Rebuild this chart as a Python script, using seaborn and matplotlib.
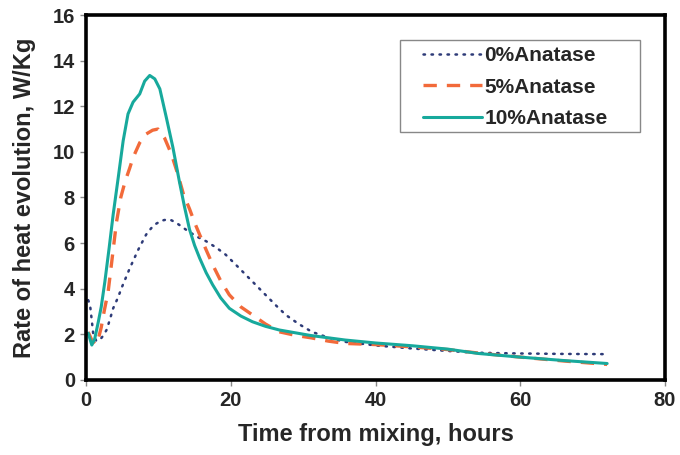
import matplotlib
matplotlib.use("Agg")
import matplotlib.pyplot as plt
from matplotlib.patches import Rectangle
import seaborn as sns

# ---- data ----
x_0 = [0.3, 0.55, 0.8, 1.0, 1.4, 1.9, 2.4, 2.85, 3.3, 3.75, 4.4, 5.0, 6.05, 7.2, 8.3, 9.0,
       9.7, 10.4, 11.1, 11.8, 12.4, 13.1, 13.8, 15.2, 16.6, 18.0, 19.3, 20.7, 22.1, 23.5,
       24.8, 26.2, 27.6, 29.4, 31.2, 33.5, 35.8, 40.4, 45, 50, 54.2, 60, 66, 72]
y_0 = [3.5, 3.3, 2.6, 2.0, 1.72, 1.75, 1.95, 2.2, 2.65, 3.14, 3.6, 4.1, 4.9, 5.7, 6.37, 6.65,
       6.85, 6.98, 7.03, 7.0, 6.9, 6.75, 6.59, 6.3, 6.08, 5.8, 5.49, 5.05, 4.6, 4.15,
       3.73, 3.28, 2.85, 2.45, 2.11, 1.85, 1.67, 1.5, 1.38, 1.27, 1.19, 1.16, 1.14, 1.13]

x_5 = [0.3, 0.8, 1.3, 1.7, 2.1, 2.5, 3.07, 3.6, 4.2, 4.8, 5.4, 6.05, 6.5, 7.42, 8.3, 9.2,
       9.94, 10.86, 11.8, 12.7, 13.5, 14.3, 15.0, 15.7, 16.6, 17.5, 18.6, 19.8, 21.4, 23,
       24.8, 26.7, 29, 31.2, 33.5, 35.8, 40, 45, 50, 55, 60, 66, 72]
y_5 = [2.1, 1.75, 1.55, 1.8, 2.3, 3.0, 3.9, 5.3, 6.9, 8.0, 8.7, 9.3, 9.75, 10.4, 10.78, 10.95,
       11.0, 10.6, 9.9, 9.0, 8.1, 7.5, 6.9, 6.37, 5.7, 5.05, 4.35, 3.73, 3.2, 2.85,
       2.45, 2.11, 1.95, 1.84, 1.7, 1.6, 1.55, 1.45, 1.33, 1.15, 1.0, 0.83, 0.68]

x_10 = [0.3, 0.8, 1.2, 1.7, 2.1, 2.6, 3.2, 3.75, 4.45, 5.13, 5.8, 6.5, 7.42, 8.1, 8.8, 9.5,
        10.2, 11.1, 12.0, 12.9, 13.6, 14.3, 15.0, 15.7, 16.6, 17.5, 18.6, 19.8, 21.4, 23,
        24.8, 26.7, 31, 35.8, 40, 45, 50, 54.2, 60, 66, 72]
y_10 = [2.05, 1.53, 1.8, 2.55, 3.2, 4.3, 5.8, 7.25, 8.87, 10.48, 11.66, 12.18, 12.54, 13.1, 13.35, 13.2,
        12.76, 11.5, 10.2, 8.7, 7.6, 6.6, 5.9, 5.34, 4.7, 4.17, 3.6, 3.14, 2.8, 2.55,
        2.35, 2.19, 1.95, 1.75, 1.62, 1.5, 1.35, 1.16, 1.0, 0.85, 0.72]

labels = ["0%Anatase", "5%Anatase", "10%Anatase"]
x_ticks = [0, 20, 40, 60, 80]
y_ticks = [0, 2, 4, 6, 8, 10, 12, 14, 16]

sns.set_theme(style="white")
plt.rcParams['font.family'] = ['Liberation Sans', 'DejaVu Sans']
plt.rcParams['font.weight'] = 'bold'

fig = plt.figure(figsize=(6.8, 4.55), dpi=100)
ax = fig.add_axes([0.1265, 0.165, 0.8515, 0.802])

sns.lineplot(x=x_0, y=y_0, ax=ax, color="#2E3B78", linewidth=1.8,
             linestyle=(0, (0.6, 2.6)), dash_capstyle="round", label=labels[0])
sns.lineplot(x=x_5, y=y_5, ax=ax, color="#F26A3A", linewidth=2.4,
             linestyle=(0, (4, 3)), label=labels[1])
sns.lineplot(x=x_10, y=y_10, ax=ax, color="#17A99C", linewidth=2.2,
             linestyle="-", label=labels[2])

ax.set_xlim(0, 80)
ax.set_ylim(0, 16)
ax.set_xticks(x_ticks)
ax.set_yticks(y_ticks)
ax.tick_params(axis="both", direction="out", length=4, width=1, color="#888888",
               labelsize=14.5, pad=4, bottom=True, left=True)
for lab in ax.get_xticklabels() + ax.get_yticklabels():
    lab.set_fontweight("bold")

for sp in ax.spines.values():
    sp.set_visible(True)
    sp.set_color("black")
    sp.set_linewidth(2.6)

ax.set_xlabel("Time from mixing, hours", fontsize=17, fontweight="bold", labelpad=9)
ax.set_ylabel("Rate of heat evolution, W/Kg", fontsize=17, fontweight="bold", labelpad=12)

# legend box frame
ax.add_patch(Rectangle((0.5423, 0.680), 0.4145, 0.252, transform=ax.transAxes,
                       facecolor="white", edgecolor="#888888", linewidth=1.0, zorder=4))
leg = ax.legend(loc="upper left", bbox_to_anchor=(0.582, 0.915), frameon=False,
                prop={"size": 15, "weight": "bold"}, handlelength=2.84,
                handletextpad=0.1, labelspacing=0.6, borderpad=0.0,
                borderaxespad=0)
leg.set_zorder(5)

fig.savefig("out.png", dpi=100)
